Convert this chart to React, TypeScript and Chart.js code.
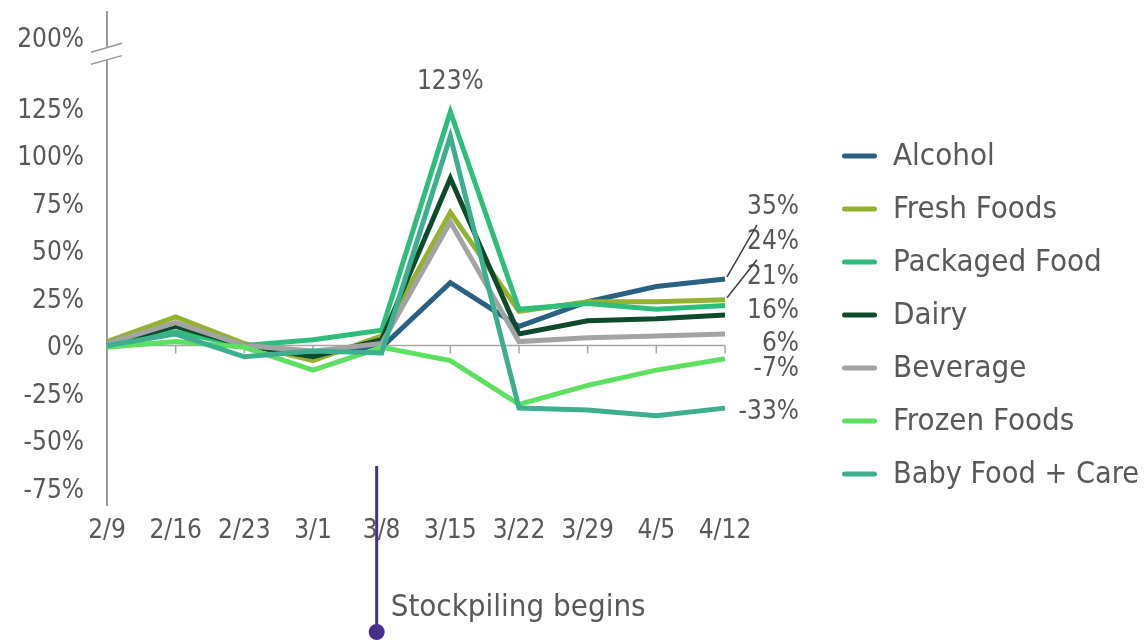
import React, { useEffect, useRef } from 'react';
import { Chart, registerables } from 'chart.js';

Chart.register(...registerables);

// Weekly change in sales vs. the 2/9 baseline, by category
const weeks = ['2/9', '2/16', '2/23', '3/1', '3/8', '3/15', '3/22', '3/29', '4/5', '4/12'];

const alcohol = [0, 11, 0, -4, -1, 33, 10, 23, 31, 35];
const freshFoods = [2, 15, 1, -8, 5, 70, 18, 23, 23, 24];
const packagedFood = [1, 7, 0, 3, 8, 123, 19, 22, 19, 21];
const dairy = [1, 10, 0, -6, 3, 88, 6, 13, 14, 16];
const beverage = [1, 12, 0, -3, 1, 65, 2, 4, 5, 6];
const frozenFoods = [-1, 2, -1, -13, -1, -8, -31, -21, -13, -7];
const babyFoodCare = [0, 6, -6, -3, -4, 110, -33, -34, -37, -33];

const seriesNames = ['Alcohol', 'Fresh Foods', 'Packaged Food', 'Dairy', 'Beverage', 'Frozen Foods', 'Baby Food + Care'];
const seriesValues = [alcohol, freshFoods, packagedFood, dairy, beverage, frozenFoods, babyFoodCare];
const seriesColors = ['#2a6081', '#94b12f', '#2ebd7a', '#0e4a2b', '#a3a3a3', '#5ddf62', '#3daf8f'];

const yTickValues = [-75, -50, -25, 0, 25, 50, 75, 100, 125];
// the axis is broken above 125%; the top tick sits just above the break
const brokenTickValue = 162;
const brokenTickLabel = '200%';
const breakValue = 153.7;

const markerWeek = '3/8';
const markerText = 'Stockpiling begins';

const TEXT = '#595959';
const FONT = "'DejaVu Sans Condensed', 'DejaVu Sans', sans-serif";

// vertical nudges for the end-of-line value labels so they don't collide
const endLabelShift = [-72, -58, -28, -4, 10, 11, 4];
const leaderSeries = [0, 1];

const decorations = {
  id: 'decorations',
  beforeDatasetsDraw(chart: any) {
    const { ctx, chartArea } = chart;
    const x = chart.scales.x;
    const y = chart.scales.y;
    const y0 = y.getPixelForValue(0);
    ctx.save();
    ctx.strokeStyle = '#a6a6a6';
    ctx.lineWidth = 1.5;
    ctx.beginPath();
    ctx.moveTo(chartArea.left, y0);
    ctx.lineTo(chartArea.right, y0);
    for (let i = 1; i < weeks.length; i++) {
      const px = x.getPixelForValue(i);
      ctx.moveTo(px, y0);
      ctx.lineTo(px, y0 + 8);
    }
    ctx.stroke();
    ctx.restore();
  },
  afterDraw(chart: any) {
    const { ctx, chartArea } = chart;
    const x = chart.scales.x;
    const y = chart.scales.y;
    ctx.save();

    // axis break marks
    const ax = chartArea.left;
    const yb = y.getPixelForValue(breakValue);
    ctx.fillStyle = '#ffffff';
    ctx.beginPath();
    ctx.moveTo(ax - 16, yb - 1.2);
    ctx.lineTo(ax + 15, yb - 10.2);
    ctx.lineTo(ax + 15, yb + 2.2);
    ctx.lineTo(ax - 16, yb + 10.8);
    ctx.closePath();
    ctx.fill();
    ctx.strokeStyle = '#9a9a9a';
    ctx.lineWidth = 1.5;
    ctx.beginPath();
    ctx.moveTo(ax - 16, yb - 1.2);
    ctx.lineTo(ax + 15, yb - 10.2);
    ctx.moveTo(ax - 16, yb + 10.8);
    ctx.lineTo(ax + 15, yb + 2.2);
    ctx.stroke();

    // peak label
    const peak = Math.max(...packagedFood);
    const peakIdx = packagedFood.indexOf(peak);
    ctx.fillStyle = TEXT;
    ctx.font = `26px ${FONT}`;
    ctx.textAlign = 'center';
    ctx.textBaseline = 'middle';
    ctx.fillText(`${peak}%`, x.getPixelForValue(peakIdx), y.getPixelForValue(peak) - 29);

    // end-of-line value labels
    const last = weeks.length - 1;
    const ex = x.getPixelForValue(last);
    ctx.textAlign = 'right';
    seriesValues.forEach((vals, i) => {
      const v = vals[last];
      const py = y.getPixelForValue(v);
      ctx.fillText(`${v}%`, ex + 74, py + endLabelShift[i]);
    });
    ctx.strokeStyle = '#404040';
    ctx.lineWidth = 1.5;
    ctx.beginPath();
    leaderSeries.forEach((i) => {
      const py = y.getPixelForValue(seriesValues[i][last]);
      ctx.moveTo(ex + 2, py - 2);
      ctx.lineTo(ex + 32, py + endLabelShift[i] + 18);
    });
    ctx.stroke();

    // stockpiling marker
    const mx = x.getPixelForValue(weeks.indexOf(markerWeek)) - 5;
    ctx.strokeStyle = '#47308c';
    ctx.fillStyle = '#47308c';
    ctx.lineWidth = 3;
    ctx.beginPath();
    ctx.moveTo(mx, chartArea.bottom - 39);
    ctx.lineTo(mx, chartArea.bottom + 127);
    ctx.stroke();
    ctx.beginPath();
    ctx.arc(mx, chartArea.bottom + 127, 8, 0, Math.PI * 2);
    ctx.fill();
    ctx.fillStyle = TEXT;
    ctx.font = `31px ${FONT}`;
    ctx.textAlign = 'left';
    ctx.fillText(markerText, mx + 14, chartArea.bottom + 103);

    // legend
    const lx = chartArea.right + 119.5;
    const ly = chartArea.top + 145;
    const textX = lx + 48.5;
    const room = chart.width - textX - 1;
    ctx.lineCap = 'round';
    ctx.lineWidth = 5;
    ctx.font = `31px ${FONT}`;
    chart.data.datasets.forEach((ds: any, i: number) => {
      const cy = ly + i * 53;
      ctx.strokeStyle = ds.borderColor;
      ctx.beginPath();
      ctx.moveTo(lx, cy - 1);
      ctx.lineTo(lx + 30, cy - 1);
      ctx.stroke();
      ctx.fillStyle = TEXT;
      ctx.fillText(ds.label, textX, cy, room);
    });

    ctx.restore();
  },
};

export default function App() {
  const canvasRef = useRef<HTMLCanvasElement | null>(null);

  useEffect(() => {
    if (!canvasRef.current) return;
    const n = seriesNames.length;
    const chart = new Chart(canvasRef.current, {
      type: 'line',
      data: {
        labels: weeks,
        datasets: seriesNames.map((name, i) => ({
          label: name,
          data: seriesValues[i],
          borderColor: seriesColors[i],
          backgroundColor: seriesColors[i],
          borderWidth: 5,
          pointRadius: 0,
          pointHoverRadius: 0,
          tension: 0,
          fill: false,
          order: n - i,
        })),
      },
      options: {
        responsive: true,
        maintainAspectRatio: false,
        animation: false,
        layout: { padding: { top: 4, bottom: 24, left: 0, right: 0 } },
        plugins: {
          tooltip: { enabled: false },
          legend: { display: false },
        },
        scales: {
          x: {
            type: 'category',
            offset: false,
            grid: { display: false, drawTicks: false },
            border: { display: false },
            ticks: {
              autoSkip: false,
              maxRotation: 0,
              padding: 11,
              color: TEXT,
              font: { family: FONT, size: 26 },
            },
            afterFit: (s: any) => {
              s.height = 111;
              s.paddingLeft = 0;
              s.paddingRight = 0;
            },
          },
          y: {
            type: 'linear',
            min: -84,
            max: 175.5,
            grid: { display: false, drawTicks: false },
            border: { display: true, color: '#9a9a9a', width: 2 },
            afterBuildTicks: (s: any) => {
              s.ticks = [...yTickValues, brokenTickValue].map((v) => ({ value: v }));
            },
            ticks: {
              padding: 23,
              labelOffset: 3,
              color: TEXT,
              font: { family: FONT, size: 26 },
              callback: (v: any) => (v === brokenTickValue ? brokenTickLabel : `${v}%`),
            },
            afterFit: (s: any) => {
              s.width = 99;
              s.paddingTop = 0;
              s.paddingBottom = 0;
            },
          },
          labelRoom: {
            type: 'linear',
            position: 'right',
            display: true,
            grid: { display: false, drawTicks: false },
            border: { display: false },
            ticks: { display: false },
            afterFit: (s: any) => {
              s.width = 415;
              s.paddingTop = 0;
              s.paddingBottom = 0;
            },
          },
        },
      },
      plugins: [decorations],
    });
    return () => chart.destroy();
  }, []);

  return (
    <div style={{ position: 'fixed', left: 8, top: 8, width: 1132, height: 632 }}>
      <canvas ref={canvasRef} />
    </div>
  );
}
